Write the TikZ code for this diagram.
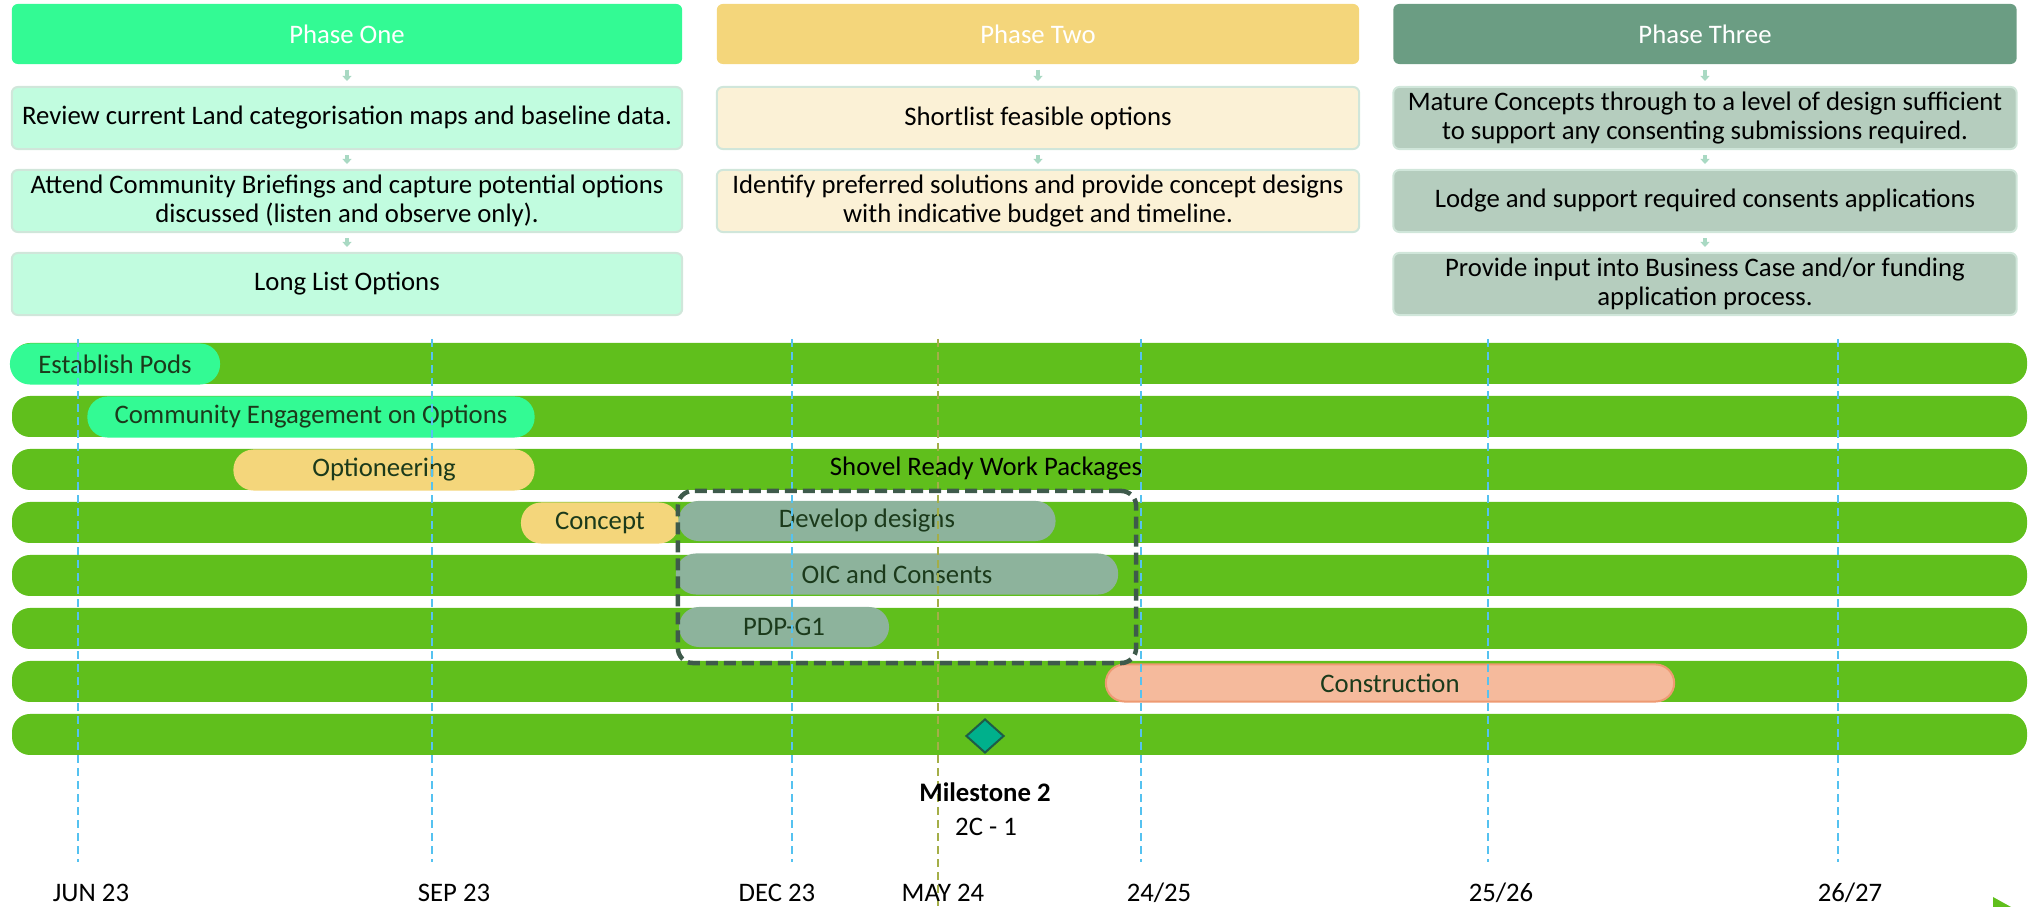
\documentclass[tikz,border=0pt]{standalone}
\usepackage{fontspec}
\setmainfont{Carlito}
\usetikzlibrary{arrows.meta,shapes.geometric}

\definecolor{mint}{HTML}{33FA94}
\definecolor{mintlight}{HTML}{C1FCDF}
\definecolor{sand}{HTML}{F4D67B}
\definecolor{sandlight}{HTML}{FBF1D6}
\definecolor{sage}{HTML}{6B9D83}
\definecolor{sagelight}{HTML}{B5CDBE}
\definecolor{boxedge}{HTML}{D0E6DA}
\definecolor{arrowtint}{HTML}{A9D9C3}
\definecolor{bargreen}{HTML}{60BF1C}
\definecolor{taskgrey}{HTML}{8DB39C}
\definecolor{salmon}{HTML}{F5BA9C}
\definecolor{salmonedge}{HTML}{EE9A72}
\definecolor{tasktext}{HTML}{1B3A1B}
\definecolor{gridblue}{HTML}{55C2F0}
\definecolor{mayolive}{HTML}{A4AE48}
\definecolor{packedge}{HTML}{3E5A4B}
\definecolor{msfill}{HTML}{00B08C}
\definecolor{msedge}{HTML}{1E5C48}

\tikzset{
  txt/.style={font=\fontsize{7.6}{8.4}\selectfont},
  phasehead/.style={txt, rectangle, rounded corners=0.06cm, minimum height=0.60cm, inner sep=0pt, text=white},
  phasebox/.style={txt, rectangle, rounded corners=0.06cm, draw=boxedge, line width=0.02cm, minimum height=0.62cm, inner sep=0pt, align=center},
  flow/.style={draw=arrowtint, line width=0.04cm, -{Triangle[width=0.09cm,length=0.05cm]}, shorten <=0.05cm, shorten >=0.05cm},
  task/.style={txt, rectangle, rounded corners=0.2cm, minimum height=0.41cm, inner sep=0pt, text=tasktext},
  gridline/.style={draw=gridblue, line width=0.015cm, dash pattern=on 0.08cm off 0.05cm},
  packbox/.style={draw=packedge, line width=0.045cm, dash pattern=on 0.12cm off 0.06cm, rounded corners=0.15cm, inner sep=0pt}
}

\begin{document}
\begin{tikzpicture}[x=0.01cm, y=-0.01cm]

\useasboundingbox (0,0) rectangle (2029,907);

%Phase One
\node[phasehead, fill=mint, minimum width=6.70cm] (p1h) at (347,34) {Phase One};
\node[phasebox, fill=mintlight, minimum width=6.70cm] (p1a) at (347,118) {Review current Land categorisation maps and baseline data.};
\node[phasebox, fill=mintlight, minimum width=6.70cm] (p1b) at (347,201) {Attend Community Briefings and capture potential options\\discussed (listen and observe only).};
\node[phasebox, fill=mintlight, minimum width=6.70cm] (p1c) at (347,284) {Long List Options};

%Phase Two
\node[phasehead, fill=sand, minimum width=6.42cm] (p2h) at (1038,34) {Phase Two};
\node[phasebox, fill=sandlight, minimum width=6.42cm] (p2a) at (1038,118) {Shortlist feasible options};
\node[phasebox, fill=sandlight, minimum width=6.42cm] (p2b) at (1038,201) {Identify preferred solutions and provide concept designs\\with indicative budget and timeline.};

%Phase Three
\node[phasehead, fill=sage, minimum width=6.23cm] (p3h) at (1705,34) {Phase Three};
\node[phasebox, fill=sagelight, minimum width=6.23cm] (p3a) at (1705,118) {Mature Concepts through to a level of design sufficient\\to support any consenting submissions required.};
\node[phasebox, fill=sagelight, minimum width=6.23cm] (p3b) at (1705,201) {Lodge and support required consents applications};
\node[phasebox, fill=sagelight, minimum width=6.23cm] (p3c) at (1705,284) {Provide input into Business Case and/or funding\\application process.};

\foreach \from/\to in {p1h/p1a, p1a/p1b, p1b/p1c, p2h/p2a, p2a/p2b, p3h/p3a, p3a/p3b, p3b/p3c}
\draw[flow] (\from) -- (\to);

% Timeline rows
\foreach \r in {0,...,7}
\fill[bargreen, rounded corners=0.18cm] (12,{343+53*\r}) rectangle (2027,{384+53*\r});

% Tasks
\node[task, fill=mint, minimum width=2.10cm] (pods) at (115,364) {Establish Pods};
\node[task, fill=mint, minimum width=4.47cm] (engage) at (311,417) {Community Engagement on Options};
\node[task, fill=sand, minimum width=3.01cm] (optn) at (384,470) {Optioneering};
\node[task, fill=sand, minimum width=1.58cm] (concept) at (600,523) {Concept};
\node[task, fill=taskgrey, minimum width=3.77cm, minimum height=0.40cm] (develop) at (867,521) {Develop designs};
\node[task, fill=taskgrey, minimum width=4.42cm] (oic) at (897,574) {OIC and Consents};
\node[task, fill=taskgrey, minimum width=2.10cm, minimum height=0.40cm] (pdp) at (784,627) {PDP-G1};
\node[task, fill=salmon, draw=salmonedge, line width=0.02cm, minimum width=5.68cm, minimum height=0.37cm, rounded corners=0.185cm] (build) at (1390,683) {Construction};

% Period lines
\foreach \x in {78,432,792,1141,1488,1838}
\draw[gridline] (\x,339) -- (\x,862);
\draw[draw=mayolive, line width=0.02cm, dash pattern=on 0.08cm off 0.05cm] (938,339) -- (938,907);

% Shovel ready group
\node[packbox, minimum width=4.58cm, minimum height=1.72cm] (pack) at (907,577) {};
\node[txt] (packlabel) at (986,469) {Shovel Ready Work Packages};

% Milestone
\node[diamond, fill=msfill, draw=msedge, line width=0.02cm, minimum width=0.38cm, minimum height=0.34cm, inner sep=0pt] (ms) at (985,736) {};
\node[txt, font=\fontsize{7.6}{8.4}\selectfont\bfseries] (mslabel) at (985,792) {Milestone 2};
\node[txt] (mscode) at (986,827) {2C - 1};

% Dates
\node[txt] (d1) at (91,893) {JUN 23};
\node[txt] (d2) at (454,893) {SEP 23};
\node[txt] (d3) at (777,893) {DEC 23};
\node[txt] (d4) at (943,893) {MAY 24};
\node[txt] (d5) at (1159,893) {24/25};
\node[txt] (d6) at (1501,893) {25/26};
\node[txt] (d7) at (1850,893) {26/27};

\fill[bargreen] (1993,897) -- (2011,907) -- (1993,907) -- cycle;

\end{tikzpicture}
\end{document}
